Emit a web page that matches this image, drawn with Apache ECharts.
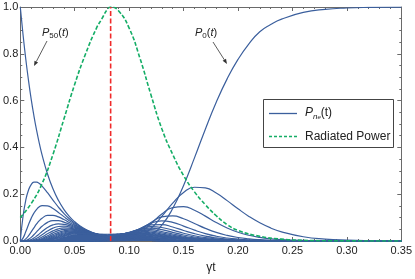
<!DOCTYPE html>
<html><head><meta charset="utf-8">
<script src="https://cdn.jsdelivr.net/npm/echarts@6/dist/echarts.min.js"></script>
<style>html,body{margin:0;padding:0;background:#fff}#c{width:415px;height:279px}</style>
</head><body><div id="c"></div>
<script>
// ---- data ----
const xTicks = [0, 0.05, 0.10, 0.15, 0.20, 0.25, 0.30, 0.35];
const yTicks = [0, 0.2, 0.4, 0.6, 0.8, 1.0];

// early states P_50 ... P_35 (left fan)
const tLeft = [0, 0.0025, 0.005, 0.0075, 0.01, 0.0125, 0.015, 0.0175, 0.02, 0.025, 0.03, 0.035, 0.04, 0.045, 0.05, 0.055, 0.06, 0.07, 0.08, 0.09, 0.10, 0.12, 0.14, 0.2, 0.35];
const P50 = [1, 0.8825, 0.7788, 0.6873, 0.6065, 0.5353, 0.4724, 0.4169, 0.3679, 0.2865, 0.2231, 0.1738, 0.1353, 0.1054, 0.0821, 0.0639, 0.0498, 0.0302, 0.0183, 0.0111, 0.0067, 0.0025, 0.0009, 0, 0];
const P49 = [0, 0.1047, 0.1740, 0.2170, 0.2411, 0.2513, 0.2517, 0.2455, 0.2348, 0.2064, 0.1750, 0.1450, 0.1182, 0.0952, 0.0762, 0.0604, 0.0478, 0.0296, 0.0182, 0.0111, 0.0067, 0.0025, 0.0009, 0, 0];
const P48 = [0, 0.0125, 0.0392, 0.0692, 0.0967, 0.1191, 0.1354, 0.1461, 0.1514, 0.1503, 0.1387, 0.1222, 0.1042, 0.0869, 0.0713, 0.0577, 0.0464, 0.0293, 0.0181, 0.0112, 0.0068, 0.0026, 0.0009, 0, 0];
const P47 = [0, 0.0015, 0.0089, 0.0221, 0.0388, 0.0564, 0.0729, 0.0868, 0.0975, 0.1093, 0.1098, 0.1029, 0.0919, 0.0793, 0.0667, 0.0550, 0.0448, 0.0289, 0.0182, 0.0113, 0.0069, 0.0026, 0.0009, 0, 0];
const P46 = [0, 0.0002, 0.0020, 0.0070, 0.0156, 0.0267, 0.0392, 0.0516, 0.0628, 0.0795, 0.0870, 0.0867, 0.0809, 0.0722, 0.0624, 0.0525, 0.0434, 0.0286, 0.0182, 0.0114, 0.0070, 0.0026, 0.0010, 0, 0];
const P45 = [0, 0, 0.0004, 0.0022, 0.0062, 0.0126, 0.0210, 0.0306, 0.0404, 0.0578, 0.0688, 0.0729, 0.0713, 0.0658, 0.0583, 0.0500, 0.0421, 0.0282, 0.0182, 0.0115, 0.0071, 0.0027, 0.0010, 0, 0];
const P44 = [0, 0, 0.0001, 0.0007, 0.0025, 0.0060, 0.0114, 0.0184, 0.0263, 0.0423, 0.0550, 0.0619, 0.0634, 0.0605, 0.0550, 0.0482, 0.0410, 0.0281, 0.0184, 0.0117, 0.0073, 0.0027, 0.0010, 0, 0];
const P43 = [0, 0, 0, 0.0002, 0.0010, 0.0029, 0.0061, 0.0109, 0.0169, 0.0308, 0.0434, 0.0521, 0.0557, 0.0551, 0.0514, 0.0459, 0.0397, 0.0278, 0.0184, 0.0118, 0.0073, 0.0028, 0.0010, 0, 0];
const P42 = [0, 0, 0, 0, 0.0004, 0.0014, 0.0033, 0.0065, 0.0110, 0.0225, 0.0346, 0.0441, 0.0495, 0.0505, 0.0484, 0.0441, 0.0387, 0.0276, 0.0185, 0.0120, 0.0075, 0.0029, 0.0010, 0, 0];
const P41 = [0, 0, 0, 0, 0.0002, 0.0006, 0.0018, 0.0039, 0.0071, 0.0164, 0.0274, 0.0371, 0.0436, 0.0461, 0.0452, 0.0420, 0.0374, 0.0273, 0.0184, 0.0120, 0.0075, 0.0029, 0.0011, 0, 0];
const P40 = [0, 0, 0, 0, 0.0001, 0.0003, 0.0010, 0.0023, 0.0046, 0.0120, 0.0218, 0.0315, 0.0386, 0.0422, 0.0426, 0.0403, 0.0365, 0.0271, 0.0185, 0.0121, 0.0076, 0.0030, 0.0011, 0, 0];
const P39 = [0, 0, 0, 0, 0, 0.0002, 0.0005, 0.0014, 0.0030, 0.0087, 0.0174, 0.0266, 0.0343, 0.0388, 0.0400, 0.0386, 0.0355, 0.0269, 0.0186, 0.0122, 0.0077, 0.0030, 0.0011, 0, 0];
const P38 = [0, 0, 0, 0, 0, 0.0001, 0.0003, 0.0008, 0.0019, 0.0064, 0.0138, 0.0225, 0.0303, 0.0355, 0.0376, 0.0370, 0.0346, 0.0268, 0.0188, 0.0124, 0.0078, 0.0031, 0.0011, 0, 0];
const P37 = [0, 0, 0, 0, 0, 0, 0.0001, 0.0005, 0.0012, 0.0047, 0.0110, 0.0190, 0.0269, 0.0325, 0.0354, 0.0355, 0.0335, 0.0266, 0.0189, 0.0125, 0.0079, 0.0031, 0.0012, 0, 0];
const P36 = [0, 0, 0, 0, 0, 0, 0.0001, 0.0003, 0.0008, 0.0034, 0.0087, 0.0161, 0.0237, 0.0297, 0.0331, 0.0340, 0.0327, 0.0264, 0.0189, 0.0126, 0.0080, 0.0032, 0.0012, 0, 0];
const P35 = [0, 0, 0, 0, 0, 0, 0, 0.0002, 0.0005, 0.0025, 0.0069, 0.0136, 0.0210, 0.0271, 0.0311, 0.0325, 0.0316, 0.0262, 0.0190, 0.0126, 0.0080, 0.0032, 0.0012, 0, 0];

// late states P_0 ... P_15 (right fan)
const tRight = [0, 0.06, 0.07, 0.08, 0.09, 0.10, 0.11, 0.12, 0.13, 0.14, 0.15, 0.16, 0.17, 0.18, 0.19, 0.20, 0.21, 0.22, 0.23, 0.24, 0.26, 0.28, 0.30, 0.32, 0.35];
const P0  = [0, 0, 0, 0, 0.0002, 0.0014, 0.0074, 0.0259, 0.0675, 0.1386, 0.2376, 0.3551, 0.4779, 0.5930, 0.6929, 0.7760, 0.8425, 0.8945, 0.9252, 0.9480, 0.9767, 0.9900, 0.9958, 0.9983, 0.9996];
const P1  = [0, 0, 0, 0.0001, 0.0008, 0.0050, 0.0200, 0.0535, 0.1050, 0.1620, 0.2075, 0.2297, 0.2269, 0.2049, 0.1725, 0.1377, 0.1052, 0.0777, 0.0558, 0.0392, 0.0181, 0.0081, 0.0035, 0.0014, 0.0004];
const P2  = [0, 0, 0, 0.0002, 0.0021, 0.0111, 0.0349, 0.0738, 0.1154, 0.1423, 0.1465, 0.1315, 0.1063, 0.0792, 0.0556, 0.0374, 0.0244, 0.0155, 0.0096, 0.0059, 0.0022, 0.0008, 0.0003, 0.0001, 0];
const P3  = [0, 0, 0, 0.0005, 0.0042, 0.0178, 0.0453, 0.0790, 0.1028, 0.1073, 0.0951, 0.0748, 0.0540, 0.0366, 0.0238, 0.0150, 0.0094, 0.0058, 0.0035, 0.0020, 0.0006, 0.0002, 0, 0, 0];
const P4  = [0, 0, 0.0001, 0.0010, 0.0068, 0.0239, 0.0511, 0.0759, 0.0859, 0.0795, 0.0638, 0.0464, 0.0315, 0.0204, 0.0129, 0.0080, 0.0049, 0.0030, 0.0018, 0.0011, 0.0003, 0.0001, 0, 0, 0];
const P5  = [0, 0, 0.0001, 0.0018, 0.0098, 0.0289, 0.0531, 0.0693, 0.0704, 0.0598, 0.0450, 0.0312, 0.0205, 0.0130, 0.0081, 0.0049, 0.0030, 0.0018, 0.0011, 0.0006, 0.0002, 0, 0, 0, 0];
const P6  = [0, 0, 0.0003, 0.0027, 0.0127, 0.0324, 0.0525, 0.0617, 0.0578, 0.0462, 0.0332, 0.0223, 0.0144, 0.0090, 0.0055, 0.0034, 0.0021, 0.0012, 0.0007, 0.0004, 0.0001, 0, 0, 0, 0];
const P7  = [0, 0, 0.0005, 0.0039, 0.0156, 0.0350, 0.0508, 0.0549, 0.0483, 0.0369, 0.0257, 0.0170, 0.0108, 0.0067, 0.0041, 0.0026, 0.0016, 0.0009, 0.0005, 0.0003, 0.0001, 0, 0, 0, 0];
const P8  = [0, 0.0001, 0.0007, 0.0052, 0.0180, 0.0361, 0.0479, 0.0483, 0.0405, 0.0299, 0.0204, 0.0132, 0.0083, 0.0052, 0.0032, 0.0020, 0.0012, 0.0007, 0.0004, 0.0002, 0.0001, 0, 0, 0, 0];
const P9  = [0, 0.0001, 0.0010, 0.0066, 0.0202, 0.0366, 0.0451, 0.0430, 0.0346, 0.0249, 0.0167, 0.0107, 0.0067, 0.0041, 0.0025, 0.0015, 0.0009, 0.0006, 0.0003, 0.0002, 0, 0, 0, 0, 0];
const P10 = [0, 0.0002, 0.0014, 0.0079, 0.0218, 0.0363, 0.0418, 0.0381, 0.0297, 0.0210, 0.0139, 0.0089, 0.0055, 0.0034, 0.0020, 0.0013, 0.0008, 0.0005, 0.0003, 0.0001, 0, 0, 0, 0, 0];
const P11 = [0, 0.0003, 0.0019, 0.0093, 0.0232, 0.0358, 0.0390, 0.0342, 0.0261, 0.0181, 0.0118, 0.0075, 0.0046, 0.0028, 0.0017, 0.0011, 0.0007, 0.0004, 0.0002, 0.0001, 0, 0, 0, 0, 0];
const P12 = [0, 0.0004, 0.0024, 0.0107, 0.0243, 0.0350, 0.0364, 0.0309, 0.0230, 0.0158, 0.0102, 0.0065, 0.0039, 0.0024, 0.0015, 0.0010, 0.0006, 0.0003, 0.0002, 0.0001, 0, 0, 0, 0, 0];
const P13 = [0, 0.0005, 0.0030, 0.0120, 0.0251, 0.0341, 0.0340, 0.0281, 0.0205, 0.0139, 0.0090, 0.0056, 0.0034, 0.0021, 0.0013, 0.0009, 0.0005, 0.0003, 0.0002, 0.0001, 0, 0, 0, 0, 0];
const P14 = [0, 0.0006, 0.0036, 0.0131, 0.0256, 0.0330, 0.0317, 0.0256, 0.0185, 0.0124, 0.0079, 0.0049, 0.0029, 0.0018, 0.0012, 0.0008, 0.0005, 0.0003, 0.0001, 0.0001, 0, 0, 0, 0, 0];
const P15 = [0, 0.0007, 0.0043, 0.0142, 0.0259, 0.0319, 0.0297, 0.0235, 0.0167, 0.0112, 0.0070, 0.0043, 0.0026, 0.0016, 0.0011, 0.0007, 0.0004, 0.0002, 0.0001, 0, 0, 0, 0, 0, 0];

// densely packed middle states: upper envelope of the solid band
const tBand = [0.015, 0.02, 0.025, 0.03, 0.035, 0.04, 0.045, 0.05, 0.055, 0.06, 0.065, 0.07, 0.075, 0.08, 0.085, 0.09, 0.095, 0.10, 0.105, 0.11, 0.115, 0.12, 0.125, 0.13, 0.14, 0.15, 0.16, 0.18, 0.20];
const bandTop = [0, 0.0004, 0.002, 0.0055, 0.011, 0.018, 0.024, 0.028, 0.031, 0.032, 0.032, 0.031, 0.0295, 0.029, 0.0295, 0.031, 0.032, 0.032, 0.031, 0.029, 0.026, 0.022, 0.018, 0.015, 0.010, 0.006, 0.0035, 0.001, 0];

// radiated power (normalised)
const tPow = [0, 0.01, 0.02, 0.03, 0.04, 0.05, 0.06, 0.07, 0.075, 0.08, 0.083, 0.09, 0.10, 0.11, 0.12, 0.13, 0.14, 0.15, 0.16, 0.17, 0.18, 0.19, 0.20, 0.22, 0.24, 0.26, 0.28, 0.30, 0.35];
const power = [0.10, 0.16, 0.245, 0.37, 0.52, 0.67, 0.80, 0.91, 0.95, 0.99, 1.0, 0.985, 0.91, 0.78, 0.625, 0.48, 0.37, 0.28, 0.21, 0.155, 0.108, 0.07, 0.045, 0.02, 0.008, 0.003, 0.001, 0.0005, 0];

// peak-power time (red dashed marker)
const tPeak = 0.083;

// ---- chart ----
const leftFan = [P50, P49, P48, P47, P46, P45, P44, P43, P42, P41, P40, P39, P38, P37, P36, P35];
const rightFan = [P0, P1, P2, P3, P4, P5, P6, P7, P8, P9, P10, P11, P12, P13, P14, P15];

const BLUE = '#3b5f9d';
const GREEN = '#14ad66';
const RED = '#f02a2a';
const FRAME = '#6a6a6a';
const FONT = 'Liberation Sans, Arial, sans-serif';

const series = [];
series.push({
  type: 'line', data: tBand.map((t, i) => [t, bandTop[i]]), smooth: true, symbol: 'none',
  lineStyle: { width: 1, color: BLUE }, areaStyle: { color: BLUE, opacity: 1 }, z: 2, silent: true
});
leftFan.forEach(row => series.push({
  type: 'line', data: tLeft.map((t, i) => [t, row[i]]), smooth: true, symbol: 'none',
  lineStyle: { width: 1.2, color: BLUE }, z: 3, silent: true
}));
rightFan.forEach(row => series.push({
  type: 'line', data: tRight.map((t, i) => [t, row[i]]), smooth: true, symbol: 'none',
  lineStyle: { width: 1.2, color: BLUE }, z: 3, silent: true
}));
series.push({
  type: 'line', data: tPow.map((t, i) => [t, power[i]]), smooth: true, symbol: 'none',
  lineStyle: { width: 1.6, color: GREEN, type: [4, 2] }, z: 5, silent: true
});
series.push({
  type: 'line', data: [[tPeak, 0], [tPeak, 1]], symbol: 'none',
  lineStyle: { width: 1.6, color: RED, type: [5, 2.5] }, z: 6, silent: true
});

function xAx(pos, labels) {
  return {
    type: 'value', min: 0, max: 0.35, interval: 0.05, position: pos,
    axisLine: { show: true, onZero: false, lineStyle: { color: FRAME, width: 1 } },
    axisTick: { show: true, inside: true, length: 4, lineStyle: { color: FRAME } },
    minorTick: { show: true, splitNumber: 5, length: 2, lineStyle: { color: FRAME } },
    splitLine: { show: false },
    axisLabel: labels ? { show: true, formatter: v => v.toFixed(2), color: '#222', fontSize: 11, margin: 4, fontFamily: FONT } : { show: false },
    name: labels ? 'γt' : '', nameLocation: 'middle', nameGap: 21,
    nameTextStyle: { color: '#222', fontSize: 12, fontFamily: FONT }
  };
}
function yAx(pos, labels) {
  return {
    type: 'value', min: 0, max: 1, interval: 0.2, position: pos,
    axisLine: { show: true, onZero: false, lineStyle: { color: FRAME, width: 1 } },
    axisTick: { show: true, inside: true, length: 4, lineStyle: { color: FRAME } },
    minorTick: { show: true, splitNumber: 4, length: 2, lineStyle: { color: FRAME } },
    splitLine: { show: false },
    axisLabel: labels ? { show: true, formatter: v => v.toFixed(1), color: '#222', fontSize: 11, margin: 2, fontFamily: FONT } : { show: false }
  };
}

const rich = {
  i: { fontStyle: 'italic', fontSize: 11, fontFamily: FONT, fill: '#222', lineHeight: 14, verticalAlign: 'middle' },
  n: { fontSize: 11, fontFamily: FONT, fill: '#222', lineHeight: 14, verticalAlign: 'middle' },
  s: { fontSize: 8, fontFamily: FONT, fill: '#222', lineHeight: 14, verticalAlign: 'bottom' }
};

function arrow(x1, y1, x2, y2) {
  const a = Math.atan2(y2 - y1, x2 - x1), L = 5, W = 2;
  const bx = x2 - L * Math.cos(a), by = y2 - L * Math.sin(a);
  return [
    { type: 'line', shape: { x1, y1, x2: bx, y2: by }, style: { stroke: '#333', lineWidth: 0.8 }, z: 50 },
    { type: 'polygon', shape: { points: [[x2, y2], [bx - W * Math.sin(a), by + W * Math.cos(a)], [bx + W * Math.sin(a), by - W * Math.cos(a)]] }, style: { fill: '#333' }, z: 50 }
  ];
}

const legendRich = {
  i: { fontStyle: 'italic', fontSize: 12, fontFamily: FONT, fill: '#222', lineHeight: 15, verticalAlign: 'middle' },
  n: { fontSize: 12, fontFamily: FONT, fill: '#222', lineHeight: 15, verticalAlign: 'middle' },
  s: { fontStyle: 'italic', fontSize: 8, fontFamily: FONT, fill: '#222', lineHeight: 15, verticalAlign: 'bottom' },
  ss: { fontStyle: 'italic', fontSize: 6, fontFamily: FONT, fill: '#222', lineHeight: 12, verticalAlign: 'bottom' }
};

const graphic = [
  { type: 'text', x: 42, y: 33, style: { text: '{i|P}{s|50}{n|(}{i|t}{n|)}', rich, verticalAlign: 'middle' }, z: 50 },
  ...arrow(47, 41, 34, 66),
  { type: 'text', x: 195, y: 33, style: { text: '{i|P}{s|0}{n|(}{i|t}{n|)}', rich, verticalAlign: 'middle' }, z: 50 },
  ...arrow(213, 42, 227, 64),
  { type: 'rect', shape: { x: 263.5, y: 99.5, width: 130, height: 48 }, style: { fill: '#fff', stroke: '#444', lineWidth: 1 }, z: 60 },
  { type: 'line', shape: { x1: 269, y1: 113.5, x2: 297, y2: 113.5 }, style: { stroke: BLUE, lineWidth: 1.3 }, z: 61 },
  { type: 'line', shape: { x1: 269, y1: 136.5, x2: 297, y2: 136.5 }, style: { stroke: GREEN, lineWidth: 1.6, lineDash: [3, 2] }, z: 61 },
  { type: 'text', x: 305, y: 113, style: { text: '{i|P}{s|n}{ss|e}{n|(t)}', rich: legendRich, verticalAlign: 'middle' }, z: 61 },
  { type: 'text', x: 305, y: 136.5, style: { text: 'Radiated Power', font: '12px ' + FONT, fill: '#222', verticalAlign: 'middle' }, z: 61 }
];

const chart = echarts.init(document.getElementById('c'));
chart.setOption({
  animation: false,
  backgroundColor: '#fff',
  grid: { left: 17, right: 13, top: 7, bottom: 36, containLabel: false },
  xAxis: [xAx('bottom', true), xAx('top', false)],
  yAxis: [yAx('left', true), yAx('right', false)],
  series,
  graphic
});
</script>
</body></html>
